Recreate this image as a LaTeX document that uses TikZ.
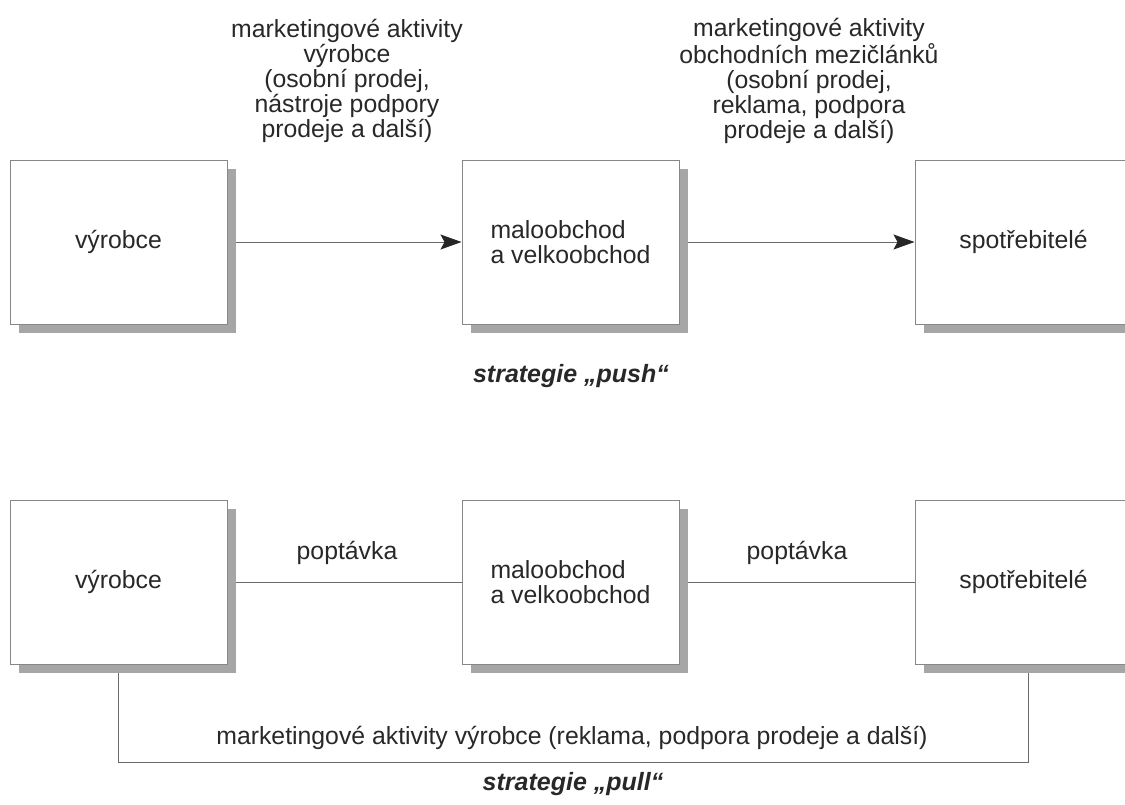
\documentclass[tikz,border=0pt]{standalone}
\usepackage{fontspec}
\setmainfont{Liberation Sans}
\usepackage{tikz}
\usetikzlibrary{arrows.meta, positioning, shadows, backgrounds}
\definecolor{mytext}{RGB}{40,40,40}
\definecolor{myframe}{RGB}{135,135,135}
\definecolor{myline}{RGB}{105,105,105}
\definecolor{myshadow}{RGB}{166,166,166}
\tikzset{
  box/.style={rectangle, draw=myframe, fill=white, line width=1pt,
    minimum width=217pt, minimum height=164pt, inner sep=0pt,
    font=\fontsize{24.8}{25}\selectfont, text=mytext,
    drop shadow={shadow xshift=9pt, shadow yshift=-9pt, fill=myshadow, opacity=1}},
  popis/.style={align=center, inner sep=0pt, text=mytext,
    font=\fontsize{24.8}{25}\selectfont},
  nadpis/.style={inner sep=0pt, text=mytext,
    font=\fontsize{25}{25}\selectfont\bfseries\itshape},
  arrow/.style={-{Stealth[length=21pt, width=15pt, inset=4pt, color=black!85]},
    line width=1pt, color=myline},
  line/.style={line width=1pt, color=myline}
}

\begin{document}
\begin{tikzpicture}[x=1pt, y=-1pt, node distance=234pt]
\path[use as bounding box, clip] (0,0) rectangle (1125,804);
% strategie push
\node[box] (vyrobce1) at (118.5,242) {výrobce};
\node[box, right=of vyrobce1, align=left] (obchod1) {maloobchod\\a velkoobchod};
\node[box, right=235pt of obchod1] (spotreb1) {spotřebitelé};
\node[popis] (akt1) at (347,81) {marketingové aktivity\\výrobce\\(osobní prodej,\\nástroje podpory\\prodeje a další)};
\node[popis] (akt2) at (809,81) {marketingové aktivity\\obchodních mezičlánků\\(osobní prodej,\\reklama, podpora\\prodeje a další)};
\node[nadpis] (push) at (571,376) {strategie „push“};
% strategie pull
\node[box, below=175pt of vyrobce1] (vyrobce2) {výrobce};
\node[box, right=of vyrobce2, align=left] (obchod2) {maloobchod\\a velkoobchod};
\node[box, right=235pt of obchod2] (spotreb2) {spotřebitelé};
\node[popis] (popt1) at (347,553) {poptávka};
\node[popis] (popt2) at (797,553) {poptávka};
\node[popis] (akt3) at (572,738) {marketingové aktivity výrobce (reklama, podpora prodeje a další)};
\node[nadpis] (pull) at (573,784) {strategie „pull“};

\begin{scope}[on background layer]
\draw[arrow] (vyrobce1) -- (obchod1);
\draw[arrow] (obchod1) -- (spotreb1);
\draw[line] (vyrobce2) -- (obchod2);
\draw[line] (obchod2) -- (spotreb2);
\draw[line] (vyrobce2.south) -- ++(0,98) -| ([xshift=5pt]spotreb2.south);
\end{scope}
\end{tikzpicture}
\end{document}
